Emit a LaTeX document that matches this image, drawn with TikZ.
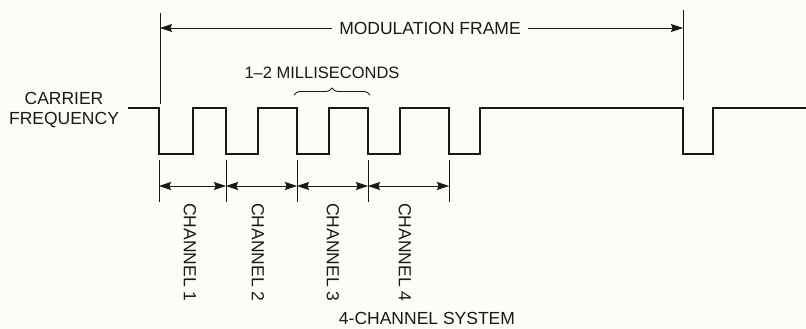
\documentclass[tikz,border=0pt]{standalone}
\usepackage{fontspec}
\setmainfont{Liberation Sans}
\usetikzlibrary{arrows.meta,decorations.pathreplacing}
\definecolor{bgcol}{RGB}{253,253,247}
\definecolor{ink}{RGB}{25,25,25}
\begin{document}
\begin{tikzpicture}[x=1pt,y=-1pt,
  wave/.style={line width=2.3pt, line join=miter, draw=ink},
  thinline/.style={line width=0.9pt, draw=ink},
  onearrow/.style={line width=0.9pt, draw=ink, -{Stealth[length=12pt,width=8pt,inset=1.5pt]}},
  dimarrow/.style={line width=0.9pt, draw=ink, {Stealth[length=12pt,width=8pt,inset=1.5pt]}-{Stealth[length=12pt,width=8pt,inset=1.5pt]}},
  lbl/.style={font=\fontsize{17.5}{19}\selectfont, text=ink, inner sep=0pt},
  chlbl/.style={lbl, rotate=-90, anchor=west}]
\fill[bgcol] (0,0) rectangle (806,329);
\useasboundingbox (0,0) rectangle (806,329);

% waveform
\draw[wave] (128,108) -- (159,108) -- (159,154) -- (193,154) -- (193,108)
  -- (226,108) -- (226,154) -- (258,154) -- (258,108)
  -- (297,108) -- (297,154) -- (329,154) -- (329,108)
  -- (368,108) -- (368,154) -- (400,154) -- (400,108)
  -- (449,108) -- (449,154) -- (480,154) -- (480,108)
  -- (683,108) -- (683,154) -- (713,154) -- (713,108) -- (806,108);

% modulation frame
\coordinate (fl) at (160,28);
\coordinate (fr) at (683,28);
\draw[thinline] (160,13) -- (160,104);
\draw[thinline] (683,10) -- (683,100);
\node[lbl] (mf) at (430,28) {MODULATION FRAME};
\draw[onearrow] ([xshift=-7pt]mf.west) -- (fl);
\draw[onearrow] ([xshift=7pt]mf.east) -- (fr);

% milliseconds
\node[lbl, font=\fontsize{16.5}{18}\selectfont] (ms) at (322,73) {1--2 MILLISECONDS};
\draw[thinline, decorate, decoration={brace, amplitude=7pt}] (294,95) -- (370,95);

% carrier
\node[lbl, align=center] (cf) at (64,110) {CARRIER\\[1pt]FREQUENCY};

% channel ticks
\foreach \n/\x in {a/159,b/226,c/297,d/368,e/449}{
  \coordinate (t\n top) at (\x,160);
  \coordinate (t\n bot) at (\x,202);
  \coordinate (t\n) at (\x,186);
  \draw[thinline] (t\n top) -- (t\n bot);
}
\draw[dimarrow] (ta) -- (tb);
\draw[dimarrow] (tb) -- (tc);
\draw[dimarrow] (tc) -- (td);
\draw[dimarrow] (td) -- (te);

\node[chlbl] (c1) at (190,203) {CHANNEL 1};
\node[chlbl] (c2) at (258,203) {CHANNEL 2};
\node[chlbl] (c3) at (333,203) {CHANNEL 3};
\node[chlbl] (c4) at (405,203) {CHANNEL 4};

\node[lbl] (sys) at (427,318) {4-CHANNEL SYSTEM};
\end{tikzpicture}
\end{document}
